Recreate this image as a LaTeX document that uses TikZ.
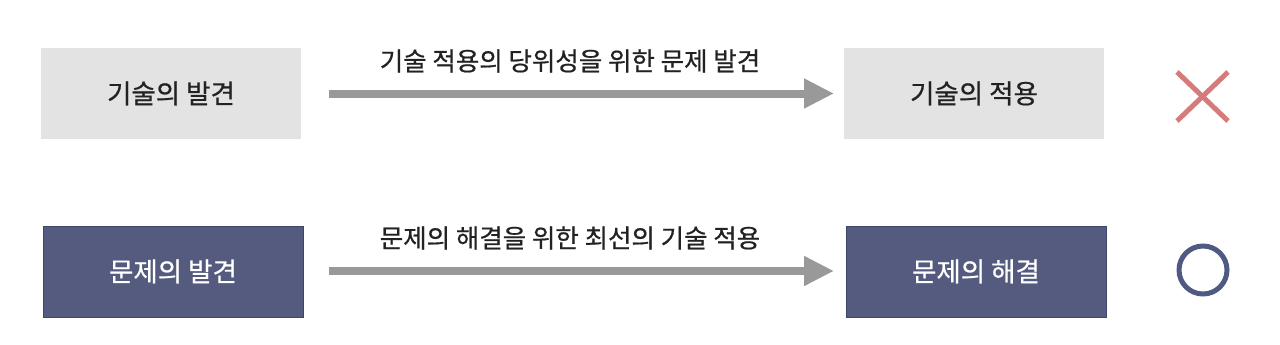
\documentclass[tikz,border=0pt]{standalone}
\usepackage{fontspec}
\setmainfont{Noto Sans CJK KR}
\newfontfamily\medfont[FakeBold=0.6]{Noto Sans CJK KR}
\usetikzlibrary{arrows.meta}
\definecolor{boxgray}{HTML}{E3E3E3}
\definecolor{arrgray}{HTML}{999999}
\definecolor{navy}{HTML}{545B7E}
\definecolor{navyedge}{HTML}{3E4668}
\definecolor{xred}{HTML}{D67B7B}
\definecolor{ocirc}{HTML}{4F5A82}
\definecolor{txtdark}{HTML}{222222}
\tikzset{
  graybox/.style={fill=boxgray, draw=none, minimum width=260pt, minimum height=91pt, inner sep=0pt, text=txtdark, font=\medfont\fontsize{26.5}{30}\selectfont},
  navybox/.style={fill=navy, draw=navyedge, line width=1pt, minimum width=260pt, minimum height=91pt, inner sep=0pt, text=white, font=\medfont\fontsize{26.5}{30}\selectfont},
  bigarrow/.style={draw=arrgray, line width=8pt, -{Triangle[length=30pt,width=28pt]}},
  arrlabel/.style={text=txtdark, font=\medfont\fontsize{25.5}{29}\selectfont, inner sep=0pt},
}
\begin{document}
\begin{tikzpicture}[x=1pt,y=-1pt]
\useasboundingbox (0,0) rectangle (1280,345);
\node[graybox] (a) at (171,93.5) {기술의 발견};
\node[graybox] (b) at (974,93.5) {기술의 적용};
\node[navybox] (c) at (173,271.5) {문제의 발견};
\node[navybox] (d) at (976,271.5) {문제의 해결};
\coordinate (a1) at (329,93.5);
\coordinate (b1) at (834,93.5);
\coordinate (c1) at (329,271);
\coordinate (d1) at (834,271);
\draw[bigarrow] (a1) -- (b1);
\draw[bigarrow] (c1) -- (d1);
\node[arrlabel] (la) at (570,61) {기술 적용의 당위성을 위한 문제 발견};
\node[arrlabel] (lc) at (570,238) {문제의 해결을 위한 최선의 기술 적용};
\coordinate (x1) at (1177,72);
\coordinate (x2) at (1228,121);
\coordinate (x3) at (1228,72);
\coordinate (x4) at (1177,121);
\draw[xred, line width=5pt] (x1) -- (x2);
\draw[xred, line width=5pt] (x3) -- (x4);
\node[draw=ocirc, line width=5pt, circle, minimum size=48pt, inner sep=0pt] (o) at (1203,270) {};
\end{tikzpicture}
\end{document}
